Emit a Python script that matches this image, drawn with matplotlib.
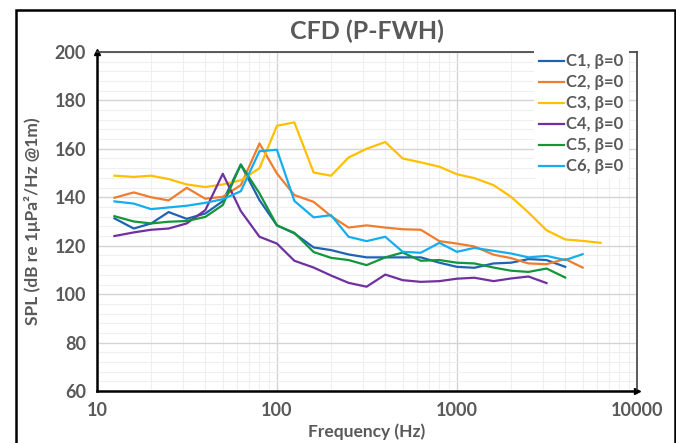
import matplotlib.pyplot as plt
from matplotlib.patches import Rectangle
from matplotlib.ticker import MultipleLocator, FixedLocator, NullFormatter

# 1/3 octave band centre frequencies (Hz)
freq = [12.5, 16, 20, 25, 31.5, 40, 50, 63, 80, 100, 125, 160, 200, 250, 315,
        400, 500, 630, 800, 1000, 1250, 1600, 2000, 2500, 3150, 4000, 5000, 6300]

c1 = [131.3, 127.1, 129.2, 133.9, 131.1, 133.3, 138.4, 153.5, 138.8, 128.4,
      125.1, 119.3, 118.2, 116.4, 115.2, 115.2, 115.2, 115.2, 113.0, 111.3,
      110.9, 112.7, 113.0, 114.5, 114.1, 111.3]
c2 = [139.8, 142.0, 140.0, 138.7, 143.9, 139.4, 140.2, 145.0, 162.2, 149.8,
      140.9, 138.1, 132.2, 127.5, 128.4, 127.5, 126.8, 126.6, 121.9, 120.9,
      119.7, 116.3, 114.9, 112.7, 112.4, 114.5, 111.0]
c3 = [148.9, 148.4, 148.9, 147.5, 145.3, 144.2, 145.3, 147.0, 152.0, 169.5,
      170.9, 150.2, 148.9, 156.4, 160.0, 162.8, 156.0, 154.4, 152.6, 149.5,
      147.9, 145.0, 140.2, 133.7, 126.4, 122.6, 122.0, 121.2]
c4 = [124.0, 125.5, 126.6, 127.1, 129.2, 134.7, 149.7, 134.3, 123.7, 120.9,
      113.8, 111.0, 107.7, 104.7, 103.1, 108.1, 105.8, 105.1, 105.4, 106.4,
      106.8, 105.4, 106.5, 107.3, 104.6]
c5 = [132.2, 130.0, 129.2, 129.9, 130.2, 131.9, 136.8, 153.5, 141.6, 128.4,
      125.3, 117.4, 115.0, 114.1, 112.0, 115.2, 117.2, 113.8, 114.1, 113.0,
      112.7, 111.0, 109.7, 109.2, 110.6, 106.9]
c6 = [138.3, 137.4, 135.1, 135.8, 136.5, 137.7, 139.2, 142.5, 159.0, 159.6,
      138.5, 131.7, 132.6, 123.7, 121.9, 123.7, 117.5, 117.1, 121.2, 117.5,
      119.1, 117.9, 116.8, 115.2, 115.8, 114.1, 116.5]

series = [("C1, \u03b2=0", c1, "#1f63b5"),
          ("C2, \u03b2=0", c2, "#f07d2e"),
          ("C3, \u03b2=0", c3, "#ffc000"),
          ("C4, \u03b2=0", c4, "#7030a0"),
          ("C5, \u03b2=0", c5, "#13953a"),
          ("C6, \u03b2=0", c6, "#14aef0")]

plt.rcParams['font.family'] = ['Lato', 'DejaVu Sans']
txt = "#595959"

fig = plt.figure(figsize=(6.76, 4.43), dpi=100)
ax = fig.add_axes([0.1435, 0.117, 0.7985, 0.766])

for name, vals, col in series:
    ax.plot(freq[:len(vals)], vals, color=col, lw=1.6, label=name)

ax.set_xscale("log")
ax.set_xlim(10, 10000)
ax.set_ylim(60, 200)
ax.yaxis.set_major_locator(MultipleLocator(20))
ax.yaxis.set_minor_locator(MultipleLocator(4))
ax.xaxis.set_major_locator(FixedLocator([10, 100, 1000, 10000]))
ax.set_xticklabels(["10", "100", "1000", "10000"])
ax.xaxis.set_minor_formatter(NullFormatter())

ax.grid(which="major", color="#d4d4d4", lw=1.0)
ax.grid(which="minor", color="#efefef", lw=0.8)
ax.set_axisbelow(True)

ax.tick_params(which="both", length=0)
ax.tick_params(axis="both", labelsize=13, labelcolor=txt, pad=8)
for lab in ax.get_xticklabels() + ax.get_yticklabels():
    lab.set_fontweight("bold")

for s in ("left", "bottom"):
    ax.spines[s].set_color("black")
    ax.spines[s].set_linewidth(1.8)
for s in ("top", "right"):
    ax.spines[s].set_color("#404040")
    ax.spines[s].set_linewidth(1.2)
# arrow heads on the axes
ax.plot(0, 1, "^k", ms=5, transform=ax.transAxes, clip_on=False)
ax.plot(1, 0, ">k", ms=5, transform=ax.transAxes, clip_on=False)

ax.set_title("CFD (P-FWH)", fontsize=18, fontweight="bold", color=txt, pad=9)
ax.set_xlabel("Frequency (Hz)", fontsize=12.5, fontweight="bold", color=txt, labelpad=3)
ax.set_ylabel("SPL (dB re 1\u03bcPa\u00b2/Hz @1m)", fontsize=12.5, fontweight="bold",
              color=txt, labelpad=10)

leg = ax.legend(loc="upper right", bbox_to_anchor=(0.985, 1.01), frameon=True,
                fontsize=12, handlelength=1.5, handletextpad=0.15,
                labelspacing=0.3, borderaxespad=0.0, borderpad=0.3)
leg.get_frame().set_edgecolor("none")
leg.get_frame().set_facecolor("white")
leg.get_frame().set_alpha(1.0)
for t in leg.get_texts():
    t.set_color(txt)
    t.set_fontweight("bold")

# outer chart frame
fig.patches.append(Rectangle((16 / 676, -0.05), (675 - 16) / 676, 1.05 - 10 / 443,
                             transform=fig.transFigure, fill=False,
                             edgecolor="black", lw=1.8))

fig.savefig("out.png", dpi=100)
